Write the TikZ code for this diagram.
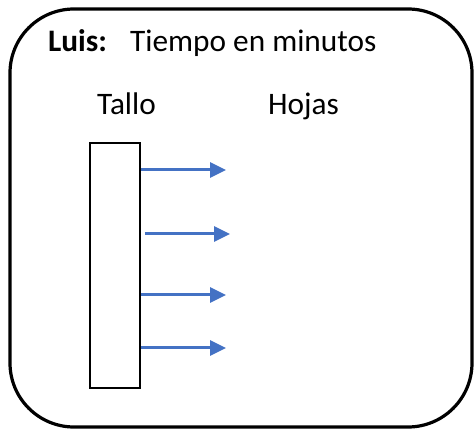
\documentclass[tikz,border=0pt]{standalone}
\usepackage{fontspec}
\setmainfont{Carlito}
\usepackage{tikz}
\usetikzlibrary{arrows.meta,positioning}

\begin{document}
\begin{tikzpicture}
	[ x=1pt, y=-1pt,
		frame/.style={draw,line width=3.2pt,rounded corners=64pt},
		stem/.style={rectangle,draw,line width=1.5pt,minimum width=50pt,minimum height=245pt,inner sep=0pt},
		caption/.style={inner sep=0pt,anchor=base west,font=\fontsize{31.3}{36}\selectfont},
		leaf/.style={-{Triangle[length=16pt,width=15pt]},line width=3pt,draw={rgb,255:red,68;green,114;blue,196}}]

	\useasboundingbox (0,0) rectangle (474,430);
	\draw[frame] (10,9) rectangle (472,427);

	\node[caption] (luis) at (48,52) {\textbf{Luis:}};
	\node[caption] (tiempo) at (130,52) {Tiempo en minutos};
	\node[caption] (tallolabel) at (97,115) {Tallo};
	\node[caption] (hojas) at (268,115) {Hojas};

	\node[stem] (tallo) at (115,265.5) {};

	\coordinate (hoja one) at (226,170);
	\coordinate (hoja two) at (230,234);
	\coordinate (hoja three) at (226,295);
	\coordinate (hoja four) at (226,348);

	\draw[leaf] (tallo.east |- hoja one) -- (hoja one);
	\draw[leaf] ([xshift=4pt]tallo.east |- hoja two) -- (hoja two);
	\draw[leaf] (tallo.east |- hoja three) -- (hoja three);
	\draw[leaf] (tallo.east |- hoja four) -- (hoja four);
\end{tikzpicture}
\end{document}
